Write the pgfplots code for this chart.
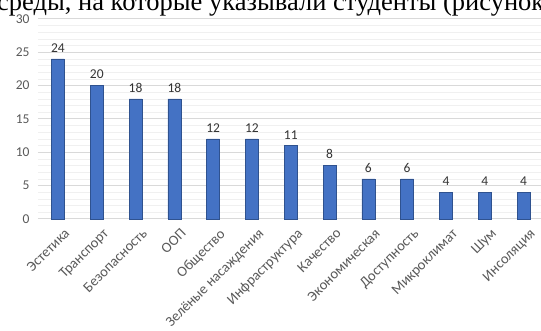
\documentclass[border=0pt]{standalone}
\usepackage{pgfplots}
\pgfplotsset{compat=1.18}
\usepackage{fontspec}
\setmainfont{Carlito}
\newfontfamily\seriffont{Liberation Serif}
\definecolor{barblue}{RGB}{68,114,196}
\definecolor{baredge}{RGB}{47,82,143}
\definecolor{txtgray}{RGB}{89,89,89}
\begin{document}
\begin{tikzpicture}[x=1pt,y=1pt]
\path[use as bounding box, clip] (0,0) rectangle (541,331);
\node[anchor=base west, inner sep=0pt, font=\seriffont\fontsize{26.5}{26}\selectfont] at (-3,320) {среды, на которые указывали студенты (рисунок 1).};
\begin{axis}[
  at={(38pt,112pt)}, anchor=south west,
  scale only axis, width=503pt, height=200pt,
  xmin=-0.515, xmax=12.45, ymin=0, ymax=30,
  ytick={0,5,...,30}, minor y tick num=4,
  xtick={0,...,12},
  xticklabels={Эстетика,Транспорт,Безопасность,ООП,Общество,Зелёные насаждения,Инфраструктура,Качество,Экономическая,Доступность,Микроклимат,Шум,Инсоляция},
  x tick label style={rotate=45, anchor=north east, inner sep=1pt, xshift=-1pt, yshift=-9pt, font=\fontsize{14.5}{15}\selectfont, text=txtgray},
  y tick label style={font=\fontsize{13.5}{14}\selectfont, text=txtgray, xshift=-5pt},
  /pgf/number format/assume math mode=true,
  major tick length=0pt, minor tick length=0pt,
  axis line style={draw=none},
  ymajorgrids, yminorgrids,
  major grid style={draw=gray!30, line width=1pt},
  minor grid style={draw=gray!12, line width=0.6pt},
  extra y ticks={0}, extra y tick labels={},
  extra y tick style={grid style={draw=gray!40, line width=1pt}},
  ybar, bar width=13pt,
  nodes near coords,
  every node near coord/.append style={font=\fontsize{13.5}{14}\selectfont, text=black!80, yshift=3pt},
  clip=false,
]
\addplot[fill=barblue, draw=baredge, line width=0.6pt] coordinates {
(0,24) (1,20) (2,18) (3,18) (4,12) (5,12) (6,11) (7,8) (8,6) (9,6) (10,4) (11,4) (12,4)};
\end{axis}
\end{tikzpicture}
\end{document}
